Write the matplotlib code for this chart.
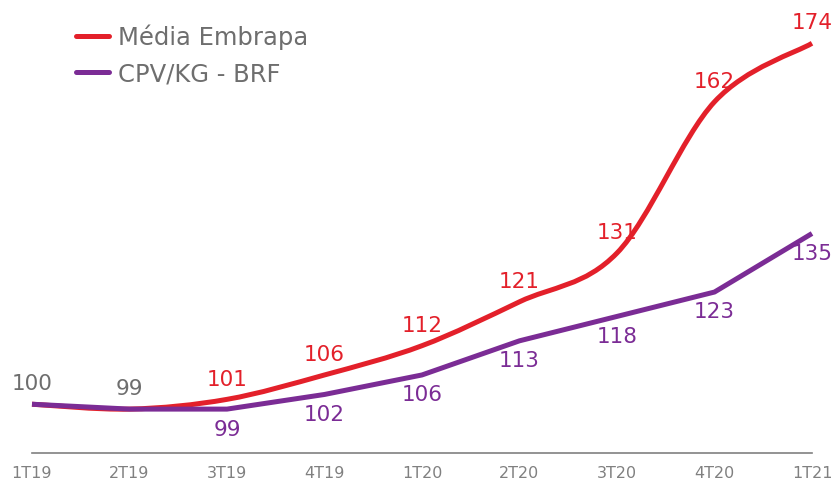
import matplotlib
matplotlib.use("Agg")
import matplotlib.pyplot as plt
from matplotlib.path import Path
from matplotlib.patches import PathPatch
from matplotlib.lines import Line2D
import numpy as np

quarters = ["1T19", "2T19", "3T19", "4T19", "1T20", "2T20", "3T20", "4T20", "1T21"]
embrapa = [100, 99, 101, 106, 112, 121, 131, 162, 174]
brf = [100, 99, 99, 102, 106, 113, 118, 123, 135]

RED = "#E3202A"
PURPLE = "#7B2C95"
GRAY = "#6E6E6E"

plt.rcParams['font.family'] = ['DejaVu Sans']

fig = plt.figure(figsize=(8.34, 4.81), dpi=100)
ax = fig.add_axes([32/834, 27/481, 780/834, 439/481])
ax.set_xlim(0, 8)
ax.set_ylim(90, 180)


def smooth_path(xs, ys):
    pts = list(zip(xs, ys))
    n = len(pts)
    verts = [pts[0]]
    codes = [Path.MOVETO]
    for i in range(n - 1):
        p0 = np.array(pts[i - 1] if i > 0 else pts[i], float)
        p1 = np.array(pts[i], float)
        p2 = np.array(pts[i + 1], float)
        p3 = np.array(pts[i + 2] if i + 2 < n else pts[i + 1], float)
        c1 = p1 + (p2 - p0) / 6.0
        c2 = p2 - (p3 - p1) / 6.0
        verts += [tuple(c1), tuple(c2), tuple(p2)]
        codes += [Path.CURVE4] * 3
    return Path(verts, codes)


x = np.arange(len(quarters))
patch = PathPatch(smooth_path(x, embrapa), facecolor="none", edgecolor=RED,
                  lw=3.6, capstyle="butt", joinstyle="round", zorder=2,
                  clip_on=False)
ax.add_patch(patch)
ax.plot(x, brf, color=PURPLE, lw=3.6, solid_joinstyle="round",
        solid_capstyle="butt", zorder=3, clip_on=False)

for i, (e, b) in enumerate(zip(embrapa, brf)):
    if e == b:
        ax.annotate(str(e), (i, e), xytext=(0, 15), textcoords="offset points",
                    ha="center", va="center", color=GRAY, fontsize=15.5)
    else:
        ax.annotate(str(e), (i, e), xytext=(0, 15), textcoords="offset points",
                    ha="center", va="center", color=RED, fontsize=15.5)
        ax.annotate(str(b), (i, b), xytext=(0, -14), textcoords="offset points",
                    ha="center", va="center", color=PURPLE, fontsize=15.5)

ax.set_xticks(x)
ax.set_xticklabels(quarters, color="#808080", fontsize=11.5)
ax.tick_params(axis="x", length=0, pad=9)
ax.set_yticks([])
for s in ["left", "right", "top"]:
    ax.spines[s].set_visible(False)
ax.spines["bottom"].set_color("#808080")
ax.spines["bottom"].set_linewidth(1.2)

handles = [Line2D([], [], color=RED, lw=3.6, solid_capstyle="round"),
           Line2D([], [], color=PURPLE, lw=3.6, solid_capstyle="round")]
leg = fig.legend(handles, ["Média Embrapa", "CPV/KG - BRF"], loc="upper left",
                 bbox_to_anchor=(54/834, 1 - 3/481), frameon=False,
                 fontsize=17.5, labelcolor=GRAY, handlelength=1.35, handletextpad=0.4,
                 labelspacing=0.5)

fig.savefig("out.png", dpi=100)
